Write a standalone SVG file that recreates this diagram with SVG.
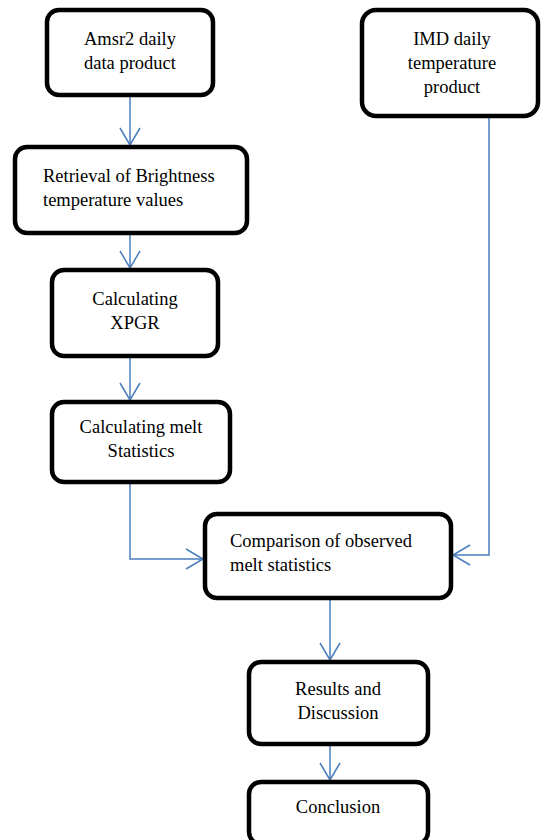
<svg xmlns="http://www.w3.org/2000/svg" width="541" height="840" viewBox="0 0 541 840">
<defs>
<marker id="arr" markerUnits="userSpaceOnUse" markerWidth="24" markerHeight="24" viewBox="-20 -12 24 24" refX="0" refY="0" orient="auto">
<path d="M-17,-10 L0,0 L-17,10" fill="none" stroke="#4a7ebb" stroke-width="1.5"/>
</marker>
</defs>
<style>
.box{fill:#fff;stroke:#000;stroke-width:4.5}
.c{text-anchor:middle}
.ln{fill:none;stroke:#4a7ebb;stroke-width:1.5;marker-end:url(#arr)}
</style>
<rect width="541" height="840" fill="#fff"/>
<g id="connectors">
<path class="ln" d="M130,97 V145"/>
<path class="ln" d="M130,235 V268"/>
<path class="ln" d="M130,358 V400"/>
<path class="ln" d="M130,484 V559 H203"/>
<path class="ln" d="M489,118 V555 H453"/>
<path class="ln" d="M330,600 V660"/>
<path class="ln" d="M330,746 V780"/>
</g>
<g font-family="Liberation Serif, Times New Roman, serif" font-size="18.5" fill="#000">
<g id="amsr2">
<rect class="box" x="47" y="10" width="166" height="85" rx="12"/>
<text class="c" x="130" y="45">Amsr2 daily</text>
<text class="c" x="130" y="69">data product</text>
</g>
<g id="imd">
<rect class="box" x="362" y="10" width="176" height="106" rx="14"/>
<text class="c" x="452" y="45">IMD daily</text>
<text class="c" x="452" y="69">temperature</text>
<text class="c" x="452" y="93">product</text>
</g>
<g id="retrieval">
<rect class="box" x="15" y="147" width="232" height="86" rx="12"/>
<text x="43" y="182">Retrieval of Brightness</text>
<text x="43" y="206">temperature values</text>
</g>
<g id="xpgr">
<rect class="box" x="52" y="270" width="166" height="86" rx="12"/>
<text class="c" x="135" y="305">Calculating</text>
<text class="c" x="135" y="329">XPGR</text>
</g>
<g id="melt">
<rect class="box" x="52" y="402" width="178" height="80" rx="12"/>
<text class="c" x="141" y="433">Calculating melt</text>
<text class="c" x="141" y="457">Statistics</text>
</g>
<g id="comparison">
<rect class="box" x="205" y="514" width="246" height="84" rx="12"/>
<text x="230" y="547">Comparison of observed</text>
<text x="230" y="571">melt statistics</text>
</g>
<g id="results">
<rect class="box" x="249" y="662" width="179" height="82" rx="12"/>
<text class="c" x="338" y="695">Results and</text>
<text class="c" x="338" y="719">Discussion</text>
</g>
<g id="conclusion">
<rect class="box" x="249" y="782" width="179" height="62" rx="12"/>
<text class="c" x="338" y="813">Conclusion</text>
</g>
</g>
</svg>
